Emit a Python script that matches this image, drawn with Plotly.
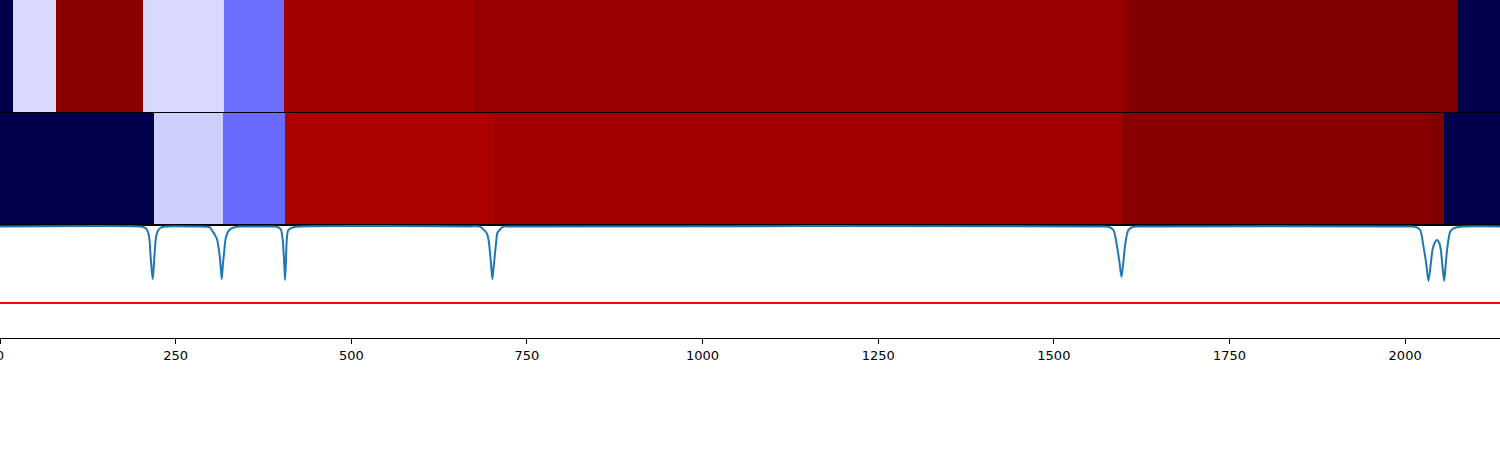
import plotly.graph_objects as go
from plotly.subplots import make_subplots

# bordes de los segmentos (fila superior) y su valor
top_edges = [0, 18.5, 79.7, 203.6, 318.9, 404.3, 674.7, 1604.7, 2074.5, 2135]
top_vals = [-1.0, -0.076, 0.955, -0.076, -0.284, 0.861, 0.908, 1.0, -1.0]

# fila del medio
mid_edges = [0, 219.2, 317.4, 405.7, 702.2, 1597.2, 2034.6, 2055.5, 2135]
mid_vals = [-1.0, -0.096, -0.292, 0.822, 0.864, 0.959, 1.0, -1.0]

# señal de abajo (leida a ojo del grafico)
sig_x = [0,
         199.3, 203.6, 207.8, 210.7, 212.8, 214.2, 215.7, 217.4, 218.9, 220.4, 222.1, 224.9, 229.2, 234.9,
         284.7, 294.2, 298.9, 301.3, 304.6, 308.5, 312.2, 313.9, 315.6, 317.2, 318.9, 321.7, 327.4, 336.9, 345.9,
         384.3, 393.9, 399.6, 402.4, 404.3, 405.7, 407.1, 408.1, 410.4, 417.5, 427.1,
         669.0, 683.3, 692.8, 695.4, 697.5, 699.4, 700.8, 702.5, 704.6, 706.5, 707.9, 716.4, 726.0,
         1565.9, 1577.7, 1584.8, 1589.6, 1593.3, 1596.2, 1599.0, 1601.4, 1606.1, 1613.3, 1622.8,
         2000.0, 2014.3, 2021.4, 2026.1, 2029.9, 2033.2, 2036.6, 2038.9, 2041.8, 2045.1, 2048.4,
         2050.8, 2053.1, 2055.5, 2057.9, 2060.2, 2064.1, 2068.8, 2078.3,
         2135]
sig_y = [0.987,
         0.987, 0.982, 0.969, 0.938, 0.867, 0.735, 0.619, 0.522, 0.637, 0.779, 0.894, 0.951, 0.978, 0.987,
         0.987, 0.985, 0.980, 0.956, 0.925, 0.882, 0.752, 0.646, 0.522, 0.646, 0.752, 0.896, 0.962, 0.985, 0.987,
         0.987, 0.985, 0.962, 0.867, 0.690, 0.513, 0.690, 0.867, 0.956, 0.980, 0.987,
         0.987, 0.985, 0.927, 0.867, 0.752, 0.619, 0.522, 0.619, 0.752, 0.867, 0.929, 0.985, 0.987,
         0.987, 0.984, 0.956, 0.823, 0.675, 0.540, 0.675, 0.823, 0.956, 0.985, 0.987,
         0.987, 0.984, 0.956, 0.808, 0.664, 0.504, 0.664, 0.779, 0.838, 0.867, 0.843,
         0.779, 0.631, 0.504, 0.664, 0.808, 0.941, 0.971, 0.985,
         0.987]
umbral = 0.31

x_max = 2135
x_ticks = [0, 250, 500, 750, 1000, 1250, 1500, 1750, 2000]

# escala "seismic" de matplotlib
seismic = [[0.0, "rgb(0,0,76)"], [0.25, "rgb(0,0,255)"], [0.5, "rgb(255,255,255)"],
           [0.75, "rgb(255,0,0)"], [1.0, "rgb(128,0,0)"]]

fig = make_subplots(rows=3, cols=1, shared_xaxes=False, vertical_spacing=0)

fig.add_trace(go.Heatmap(x=top_edges, z=[top_vals], y=[0], colorscale=seismic,
                         zmin=-1, zmax=1, showscale=False), row=1, col=1)
fig.add_trace(go.Heatmap(x=mid_edges, z=[mid_vals], y=[0], colorscale=seismic,
                         zmin=-1, zmax=1, showscale=False), row=2, col=1)
fig.add_trace(go.Scatter(x=sig_x, y=sig_y, mode="lines",
                         line=dict(color="#1f77b4", width=2, shape="spline", smoothing=0.7)),
              row=3, col=1)
fig.add_trace(go.Scatter(x=[0, x_max], y=[umbral, umbral], mode="lines",
                         line=dict(color="#ff0000", width=1.8)), row=3, col=1)

eje = dict(range=[0, x_max], showgrid=False, zeroline=False, showline=True,
           linecolor="black", linewidth=1, mirror=True, automargin=False)
fig.update_xaxes(**eje, showticklabels=False, ticks="")
fig.update_xaxes(ticks="outside", ticklen=5, tickwidth=1, tickcolor="black",
                 showticklabels=True, tickvals=x_ticks, ticklabeloverflow="allow",
                 row=3, col=1)
fig.update_yaxes(showgrid=False, zeroline=False, showticklabels=False, ticks="",
                 showline=True, linecolor="black", linewidth=1, automargin=False)
fig.update_yaxes(range=[-0.5, 0.5], domain=[0.6686, 1.0], row=1, col=1)
fig.update_yaxes(range=[-0.5, 0.5], domain=[0.3343, 0.6657], row=2, col=1)
fig.update_yaxes(range=[0, 1], domain=[0.0, 0.3343], row=3, col=1)

fig.update_layout(width=1500, height=450, showlegend=False,
                  margin=dict(l=0, r=0, t=0, b=112),
                  plot_bgcolor="white", paper_bgcolor="white",
                  font=dict(family="DejaVu Sans", size=13, color="black"))
# sin el margen del body para que quede pegado al borde
fig.write_html("out.html", config={"displayModeBar": False},
               post_script="document.body.style.margin='0';")
